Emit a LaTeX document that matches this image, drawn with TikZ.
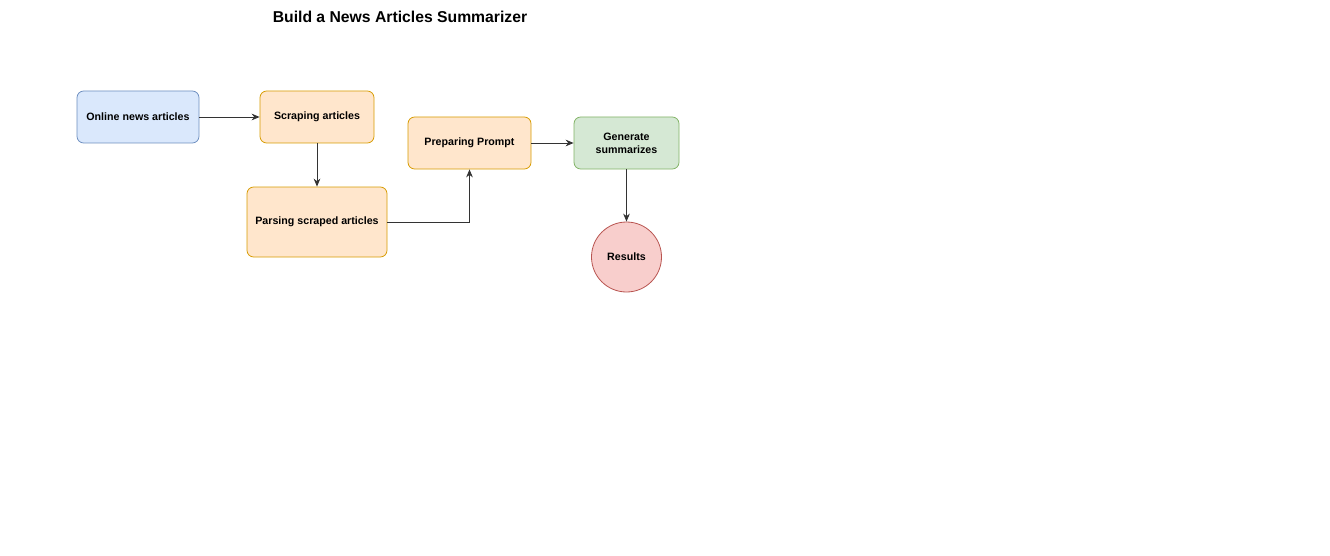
\documentclass[tikz,border=0pt]{standalone}
\usepackage{fontspec}
\setmainfont{Liberation Sans}
\usetikzlibrary{arrows.meta}
\definecolor{blueFill}{HTML}{DAE8FC}
\definecolor{blueLine}{HTML}{6C8EBF}
\definecolor{orangeFill}{HTML}{FFE6CC}
\definecolor{orangeLine}{HTML}{D79B00}
\definecolor{greenFill}{HTML}{D5E8D4}
\definecolor{greenLine}{HTML}{82B366}
\definecolor{redFill}{HTML}{F8CECC}
\definecolor{redLine}{HTML}{B85450}
\begin{document}
\begin{tikzpicture}[x=0.75pt, y=-0.75pt,
  box/.style={draw, rounded corners=5pt, line width=0.6pt, font=\fontsize{8}{9.5}\selectfont\bfseries, align=center},
  flow/.style={-{Stealth[length=6pt,width=5pt]}, line width=0.7pt, draw=black!80}]
\useasboundingbox (0,0) rectangle (1330,556);
\node (title) at (400,17) {\fontsize{11.8}{13}\selectfont\bfseries Build a News Articles Summarizer};
\node[box, fill=blueFill, draw=blueLine, minimum width=91.5pt, minimum height=39pt] (online) at (138,117) {Online news articles};
\node[box, fill=orangeFill, draw=orangeLine, minimum width=85.5pt, minimum height=39pt] (scraping) at (317,117) {Scraping articles};
\node[box, fill=orangeFill, draw=orangeLine, minimum width=105pt, minimum height=52.5pt] (parsing) at (317,222) {Parsing scraped articles};
\node[box, fill=orangeFill, draw=orangeLine, minimum width=92.25pt, minimum height=39pt] (prompt) at (469.5,143) {Preparing Prompt};
\node[box, fill=greenFill, draw=greenLine, minimum width=78.75pt, minimum height=39pt] (generate) at (626.5,143) {Generate\\summarizes};
\node[box, circle, fill=redFill, draw=redLine, minimum size=52.5pt, inner sep=0pt] (results) at (626.5,257) {Results};
\draw[flow] (online) -- (scraping);
\draw[flow] (scraping) -- (parsing);
\draw[flow] (parsing) -| (prompt);
\draw[flow] (prompt) -- (generate);
\draw[flow] (generate) -- (results);
\end{tikzpicture}
\end{document}
